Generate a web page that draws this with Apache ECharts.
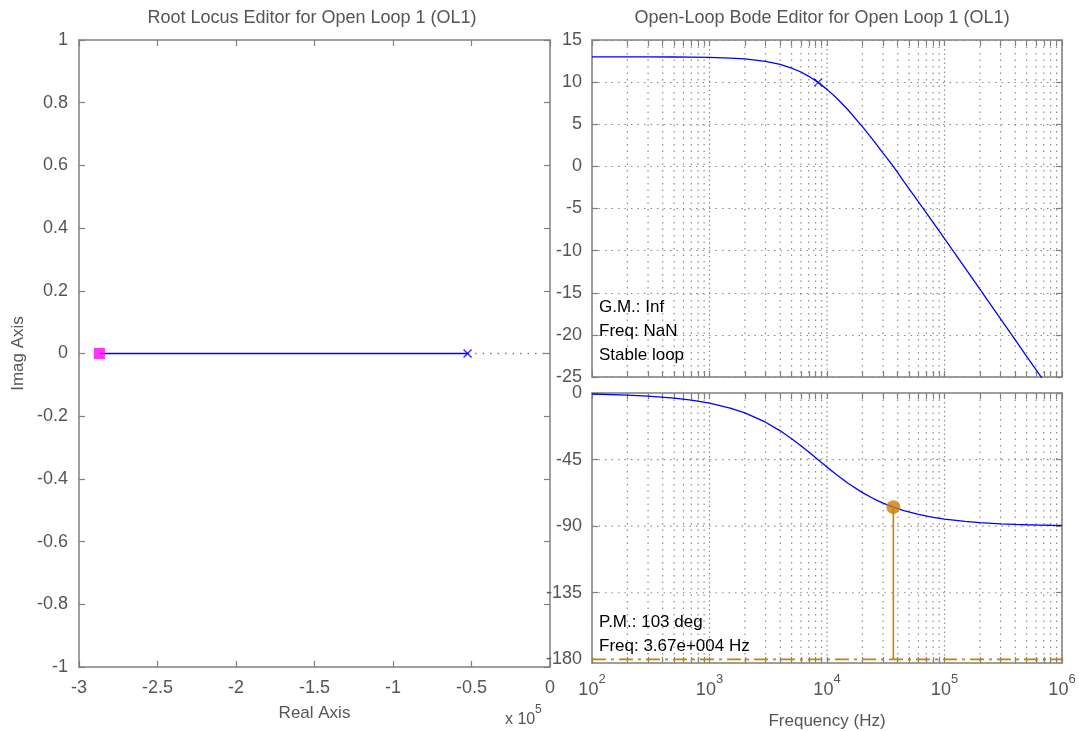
<!DOCTYPE html>
<html>
<head>
<meta charset="utf-8">
<script src="https://cdn.jsdelivr.net/npm/echarts@6/dist/echarts.min.js"></script>
<style>
  html, body { margin: 0; padding: 0; background: #ffffff; }
  #chart { width: 1079px; height: 731px; }
</style>
</head>
<body>
<div id="chart"></div>
<script>
// ---- Root locus (real axis, rad/s) ----
const rlBranchX = [-2.87e5, -0.525e5];      // solid locus branch
const rlAsymptoteX = [-0.525e5, 0];         // dotted continuation
const rlOpenLoopPole = [-0.525e5, 0];       // open-loop pole (x)
const rlClosedLoopPole = [-2.87e5, 0];      // current closed-loop pole (square)

// ---- Open-loop Bode response ----
const bodeFreq = [100, 200, 300, 500, 700, 1000, 1500, 2000, 3000, 4000, 5000, 6000, 7000, 8400,
  10000, 12000, 15000, 20000, 25000, 30000, 36700, 45000, 60000, 80000, 100000, 150000, 200000,
  300000, 400000, 500000, 650000, 800000, 1000000];
const bodeMag = [13.0, 13.0, 12.99, 12.98, 12.97, 12.94, 12.86, 12.76, 12.47, 12.1, 11.67, 11.2, 10.69, 9.97,
  9.14, 8.14, 6.75, 4.72, 3.03, 1.58, 0.0, -1.77, -4.2, -6.66, -8.59, -12.09, -14.58,
  -18.1, -20.6, -22.54, -24.81, -26.62, -28.56];
const bodePhase = [-0.69, -1.37, -2.06, -3.42, -4.79, -6.82, -10.17, -13.45, -19.74, -25.57, -30.88, -35.67, -39.94, -45.14,
  -50.1, -55.13, -60.86, -67.31, -71.51, -74.43, -77.17, -79.48, -82.07, -84.03, -85.22, -86.81, -87.61,
  -88.4, -88.8, -89.04, -89.26, -89.4, -89.52];
const magPoleMarker = [8400, 9.97];
const pmFreq = 36700;
const pmPhase = -77.17;
const phaseFloor = -180;

// ---- Axis ticks and limits ----
const magTicks = [15, 10, 5, 0, -5, -10, -15, -20, -25];
const phaseTicks = [0, -45, -90, -135, -180];
const phaseGridLines = [-45, -90, -135];
const phaseLimits = [-182.5, 0];
const decades = [100, 1000, 10000, 100000, 1000000];
const decadeSteps = [2, 3, 4, 5, 6, 7, 8, 9];

// all grid / tick frequencies on the log axis
const freqGrid = [];
decades.forEach(function (d, i) {
  freqGrid.push(d);
  if (i < decades.length - 1) decadeSteps.forEach(function (m) { freqGrid.push(d * m); });
});

const FONT = '"Liberation Sans", Arial, Helvetica, sans-serif';
const FRAME = '#7f7f7f';
const TXT = '#555555';
const BLUE = '#0000ff';
const ORANGE = '#cc7f00';
const DOT = '#8c8c8c';

const chart = echarts.init(document.getElementById('chart'), null, { renderer: 'canvas' });

const grids = [
  { left: 79, top: 40, width: 471, height: 627 },
  { left: 592, top: 40, width: 470, height: 337 },
  { left: 592, top: 393, width: 470, height: 274 }
];

function frameLine() { return { show: true, onZero: false, lineStyle: { color: FRAME, width: 1.5 } }; }
function inTick(vals) {
  const t = { show: true, inside: true, length: 6, lineStyle: { color: FRAME, width: 1.2 } };
  if (vals) t.customValues = vals;
  return t;
}
const labelBase = { color: TXT, fontFamily: FONT, fontSize: 18 };

function rlX(pos, showLabel) {
  return {
    type: 'value', gridIndex: 0, position: pos, min: -3e5, max: 0, interval: 0.5e5,
    axisLine: frameLine(), axisTick: inTick(), splitLine: { show: false },
    axisLabel: Object.assign({ show: showLabel, margin: 12,
      formatter: function (v) { return String(Math.round(v / 1e4) / 10); } }, labelBase)
  };
}
function rlY(pos, showLabel) {
  return {
    type: 'value', gridIndex: 0, position: pos, min: -1, max: 1, interval: 0.2,
    axisLine: frameLine(), axisTick: inTick(), splitLine: { show: false },
    axisLabel: Object.assign({ show: showLabel, margin: 11,
      formatter: function (v) { return String(Math.round(v * 10) / 10); } }, labelBase)
  };
}
function freqAxis(gi, pos, showLabel) {
  return {
    type: 'log', logBase: 10, gridIndex: gi, position: pos, min: 100, max: 1000000,
    axisLine: frameLine(), axisTick: inTick(freqGrid), splitLine: { show: false },
    axisLabel: {
      show: showLabel, margin: 10, color: TXT, fontFamily: FONT,
      formatter: function (v) { return '{b|10}{s|' + Math.round(Math.log10(v)) + '}'; },
      rich: {
        b: { fontSize: 18, color: TXT, fontFamily: FONT, lineHeight: 34 },
        s: { fontSize: 13, color: TXT, fontFamily: FONT, lineHeight: 12, verticalAlign: 'top' }
      }
    }
  };
}
function magAxis(pos, showLabel) {
  return {
    type: 'value', gridIndex: 1, position: pos, min: -25, max: 15, interval: 5,
    axisLine: frameLine(), axisTick: inTick(),
    splitLine: { show: showLabel, lineStyle: { color: DOT, type: [1.5, 5], width: 1.2 } },
    axisLabel: Object.assign({ show: showLabel, margin: 10 }, labelBase)
  };
}
function phaseAxis(pos, showLabel) {
  return {
    type: 'value', gridIndex: 2, position: pos, min: phaseLimits[0], max: phaseLimits[1],
    axisLine: frameLine(), axisTick: inTick(phaseTicks), splitLine: { show: false },
    axisLabel: Object.assign({ show: showLabel, margin: 10, customValues: phaseTicks }, labelBase)
  };
}

const xAxes = [
  Object.assign(rlX('bottom', true), { name: 'Real Axis', nameLocation: 'middle', nameGap: 38,
    nameTextStyle: { color: TXT, fontFamily: FONT, fontSize: 17 } }),
  rlX('top', false),
  freqAxis(1, 'bottom', false),
  freqAxis(1, 'top', false),
  Object.assign(freqAxis(2, 'bottom', true), { name: 'Frequency (Hz)', nameLocation: 'middle', nameGap: 50,
    nameTextStyle: { color: TXT, fontFamily: FONT, fontSize: 17 } }),
  freqAxis(2, 'top', false)
];
const yAxes = [
  Object.assign(rlY('left', true), { name: 'Imag Axis', nameLocation: 'middle', nameGap: 52, nameRotate: 90,
    nameTextStyle: { color: TXT, fontFamily: FONT, fontSize: 17 } }),
  rlY('right', false),
  magAxis('left', true),
  magAxis('right', false),
  phaseAxis('left', true),
  phaseAxis('right', false)
];

// dotted vertical grid lines at every decade / sub-decade frequency
function freqGridSeries(xi, yi, yLo, yHi) {
  return {
    type: 'custom', xAxisIndex: xi, yAxisIndex: yi, silent: true, z: 1,
    data: freqGrid.map(function (f) { return [f, yLo]; }),
    renderItem: function (params, api) {
      const f = api.value(0);
      const p0 = api.coord([f, yHi]);
      const p1 = api.coord([f, yLo]);
      const major = decades.indexOf(f) >= 0;
      return {
        type: 'line',
        shape: { x1: p0[0], y1: p0[1], x2: p1[0], y2: p1[1] },
        style: { stroke: DOT, lineWidth: 1.2, lineDash: major ? [1.5, 3] : [1.5, 5] }
      };
    }
  };
}
// dotted horizontal grid lines of the phase plot
function phaseGridSeries() {
  return {
    type: 'custom', xAxisIndex: 4, yAxisIndex: 4, silent: true, z: 1,
    data: phaseGridLines.map(function (p) { return [decades[0], p]; }),
    renderItem: function (params, api) {
      const p = api.value(1);
      const a = api.coord([decades[0], p]);
      const b = api.coord([decades[decades.length - 1], p]);
      return {
        type: 'line',
        shape: { x1: a[0], y1: a[1], x2: b[0], y2: b[1] },
        style: { stroke: DOT, lineWidth: 1.2, lineDash: [1.5, 5] }
      };
    }
  };
}

const xMarkPath = 'path://M0,0L10,10M10,0L0,10';

const series = [
  // root locus
  { type: 'line', xAxisIndex: 0, yAxisIndex: 0, symbol: 'none', z: 3,
    data: rlAsymptoteX.map(function (x) { return [x, 0]; }),
    lineStyle: { color: '#808080', width: 1.5, type: [1.5, 6] } },
  { type: 'line', xAxisIndex: 0, yAxisIndex: 0, symbol: 'none', z: 4,
    data: rlBranchX.map(function (x) { return [x, 0]; }),
    lineStyle: { color: BLUE, width: 1.5 } },
  { type: 'scatter', xAxisIndex: 0, yAxisIndex: 0, z: 5, symbol: xMarkPath, symbolSize: 8,
    data: [rlOpenLoopPole],
    itemStyle: { color: 'none', borderColor: BLUE, borderWidth: 1.5 } },
  { type: 'scatter', xAxisIndex: 0, yAxisIndex: 0, z: 6, symbol: 'rect', symbolSize: 11,
    data: [rlClosedLoopPole], itemStyle: { color: '#ff00ff' } },

  // magnitude
  freqGridSeries(2, 2, -25, 15),
  { type: 'line', xAxisIndex: 2, yAxisIndex: 2, symbol: 'none', z: 4, clip: true,
    data: bodeFreq.map(function (f, i) { return [f, bodeMag[i]]; }),
    lineStyle: { color: BLUE, width: 1.3 } },
  { type: 'scatter', xAxisIndex: 2, yAxisIndex: 2, z: 5, symbol: xMarkPath, symbolSize: 8,
    data: [magPoleMarker],
    itemStyle: { color: 'none', borderColor: BLUE, borderWidth: 1.3 } },

  // phase
  freqGridSeries(4, 4, phaseLimits[0], phaseLimits[1]),
  phaseGridSeries(),
  { type: 'line', xAxisIndex: 4, yAxisIndex: 4, symbol: 'none', z: 4,
    data: bodeFreq.map(function (f, i) { return [f, bodePhase[i]]; }),
    lineStyle: { color: BLUE, width: 1.3 } },
  { type: 'line', xAxisIndex: 4, yAxisIndex: 4, symbol: 'none', z: 3,
    data: [[decades[0], phaseFloor], [decades[decades.length - 1], phaseFloor]],
    lineStyle: { color: ORANGE, width: 1.8, type: [14, 5, 3, 5] } },
  { type: 'line', xAxisIndex: 4, yAxisIndex: 4, symbol: 'none', z: 4,
    data: [[pmFreq, pmPhase], [pmFreq, phaseFloor]],
    lineStyle: { color: ORANGE, width: 1.6 } },
  { type: 'scatter', xAxisIndex: 4, yAxisIndex: 4, z: 6, symbol: 'circle', symbolSize: 14,
    data: [[pmFreq, pmPhase]], itemStyle: { color: ORANGE } }
];

function txt(x, y, text, opts) {
  return {
    type: 'text', x: x, y: y, z: 50,
    style: Object.assign({ text: text, fill: '#000000', font: '17px ' + FONT,
      textAlign: 'left', textVerticalAlign: 'middle' }, opts || {})
  };
}

const graphics = [
  txt(312, 18, 'Root Locus Editor for Open Loop 1 (OL1)', { fill: TXT, textAlign: 'center', font: '18px ' + FONT }),
  txt(822, 18, 'Open-Loop Bode Editor for Open Loop 1 (OL1)', { fill: TXT, textAlign: 'center', font: '18px ' + FONT }),
  txt(599, 307, 'G.M.: Inf'),
  txt(599, 331, 'Freq: NaN'),
  txt(599, 355, 'Stable loop'),
  txt(599, 622, 'P.M.: 103 deg'),
  txt(599, 646, 'Freq: 3.67e+004 Hz'),
  txt(505, 720, 'x 10', { fill: TXT, font: '16px ' + FONT }),
  txt(535, 710, '5', { fill: TXT, font: '12px ' + FONT })
];

chart.setOption({
  backgroundColor: '#ffffff',
  animation: false,
  textStyle: { fontFamily: FONT },
  grid: grids,
  xAxis: xAxes,
  yAxis: yAxes,
  series: series,
  graphic: graphics
});
</script>
</body>
</html>
